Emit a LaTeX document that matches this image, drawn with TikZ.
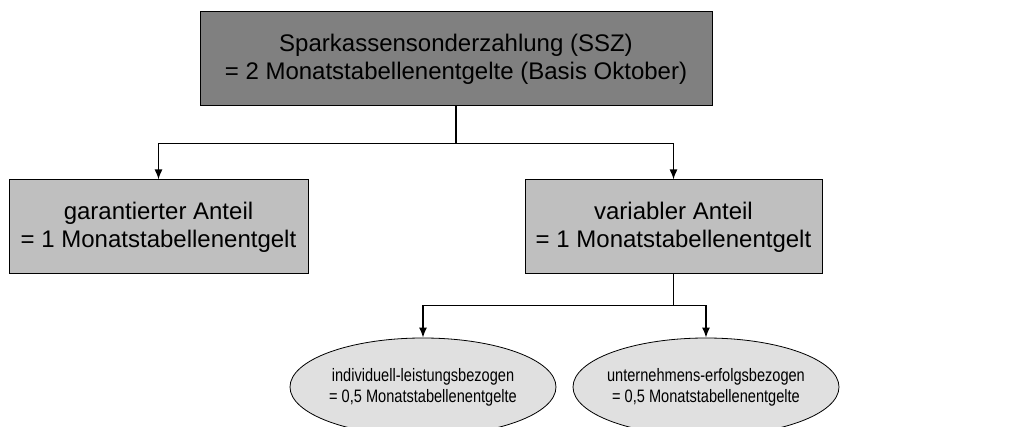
\documentclass[tikz,border=0pt]{standalone}
\usepackage{fontspec}
\setmainfont{Liberation Sans}
\newfontfamily\narrowsans[FakeStretch=0.81]{Liberation Sans}
\usepackage{tikz}
\tikzstyle{topbox}=[rectangle, draw=black, line width=1pt, fill=black!50, minimum width=512pt, minimum height=94pt, align=center, font=\fontsize{24}{28}\selectfont]
\tikzstyle{partbox}=[rectangle, draw=black, line width=1pt, fill=black!25, minimum height=94pt, inner xsep=0pt, align=center, font=\fontsize{24}{28}\selectfont]
\tikzstyle{subpart}=[ellipse, draw=black, line width=.8pt, fill=black!12, minimum width=266pt, minimum height=98pt, inner xsep=-40pt, inner ysep=0pt, align=center, font=\narrowsans\fontsize{18}{21}\selectfont]
\tikzstyle{conn}=[line width=1.5pt, -{Latex[length=10pt,width=8pt]}]
\usetikzlibrary{shapes.geometric, arrows.meta}

\begin{document}
\begin{tikzpicture}[x=1pt, y=-1pt]
  \useasboundingbox (0,0) rectangle (1013,427);
  \node[topbox] (ssz) at (456,59) {Sparkassensonderzahlung (SSZ)\\= 2 Monatstabellenentgelte (Basis Oktober)};
  \node[partbox, minimum width=299pt] (garant) at (158.5,227) {garantierter Anteil\\= 1 Monatstabellenentgelt};
  \node[partbox, minimum width=297pt] (var) at (673.5,227) {variabler Anteil\\= 1 Monatstabellenentgelt};
  \node[subpart] (indiv) at (423,387) {individuell-leistungsbezogen\\= 0,5 Monatstabellenentgelte};
  \node[subpart] (unter) at (706,387) {unternehmens-erfolgsbezogen\\= 0,5 Monatstabellenentgelte};
  \draw[conn] (ssz.south) -- ++(0,37) -| (garant.north);
  \draw[conn] (ssz.south) -- ++(0,37) -| (var.north);
  \draw[conn] (var.south) -- ++(0,31) -| (indiv.north);
  \draw[conn] (var.south) -- ++(0,31) -| (unter.north);
\end{tikzpicture}
\end{document}
